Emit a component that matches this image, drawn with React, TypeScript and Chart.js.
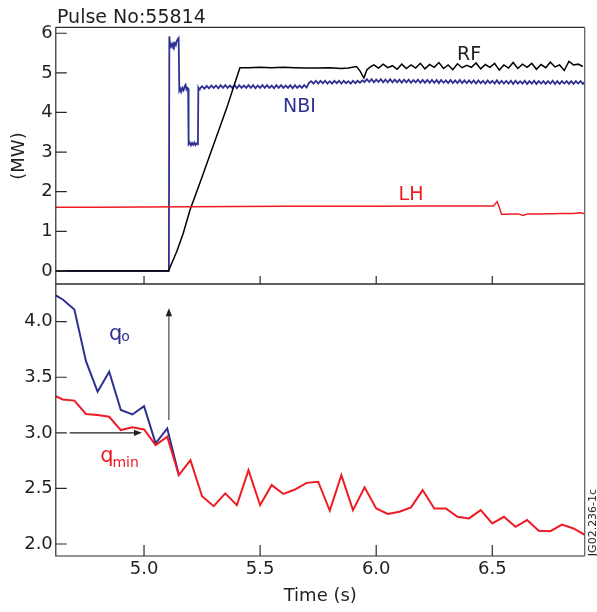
import React, { useEffect, useRef } from 'react';
import { Chart, registerables } from 'chart.js';

Chart.register(...registerables);

// ---------- data ----------
const X_MIN = 4.62;
const X_MAX = 6.898;
const X_TICKS = [5.0, 5.5, 6.0, 6.5];
const POWER_TICKS = [0, 1, 2, 3, 4, 5, 6];
const POWER_MIN = -0.33;
const POWER_MAX = 6.15;
const Q_TICKS = [2.0, 2.5, 3.0, 3.5, 4.0];
const Q_MIN = 1.892;
const Q_MAX = 4.339;

// NBI power (MW): switch-on steps, then sawtooth ripple sampled every 10 ms
const NBI_HEAD: [number, number][] = [
  [4.6, 0.0], [5.107, 0.0], [5.109, 5.92], [5.113, 5.66], [5.117, 5.72], [5.121, 5.66],
  [5.125, 5.74], [5.129, 5.68], [5.133, 5.75], [5.137, 5.70], [5.141, 5.80], [5.145, 5.85],
  [5.149, 5.88], [5.152, 4.55], [5.156, 4.60], [5.160, 4.52], [5.165, 4.62], [5.170, 4.56],
  [5.175, 4.66], [5.179, 4.70], [5.183, 4.58], [5.187, 4.62], [5.190, 4.60], [5.192, 3.20],
  [5.197, 3.24], [5.202, 3.17], [5.207, 3.23], [5.212, 3.18], [5.217, 3.24], [5.222, 3.18],
  [5.227, 3.22], [5.232, 3.20], [5.234, 4.62], [5.237, 4.58],
];
const NBI_RIPPLE_T0 = 5.24;
const NBI_RIPPLE_DT = 0.01;
const NBI_RIPPLE = [
  4.60, 4.66, 4.60, 4.67, 4.61, 4.68, 4.62, 4.68, 4.61, 4.69,
  4.62, 4.69, 4.62, 4.68, 4.62, 4.69, 4.61, 4.69, 4.62, 4.68,
  4.62, 4.69, 4.62, 4.69, 4.61, 4.68, 4.62, 4.69, 4.62, 4.69,
  4.62, 4.68, 4.61, 4.69, 4.62, 4.69, 4.62, 4.68, 4.62, 4.69,
  4.61, 4.69, 4.62, 4.68, 4.62, 4.69, 4.63, 4.74, 4.79, 4.73,
  4.80, 4.73, 4.80, 4.74, 4.80, 4.73, 4.79, 4.73, 4.80, 4.74,
  4.80, 4.73, 4.80, 4.74, 4.79, 4.73, 4.80, 4.74, 4.80, 4.75,
  4.81, 4.77, 4.84, 4.77, 4.84, 4.76, 4.83, 4.77, 4.84, 4.76,
  4.83, 4.76, 4.84, 4.76, 4.83, 4.76, 4.83, 4.75, 4.83, 4.76,
  4.83, 4.75, 4.82, 4.76, 4.83, 4.75, 4.82, 4.75, 4.82, 4.75,
  4.82, 4.75, 4.82, 4.74, 4.82, 4.75, 4.81, 4.74, 4.82, 4.74,
  4.81, 4.74, 4.82, 4.74, 4.81, 4.74, 4.81, 4.74, 4.81, 4.73,
  4.81, 4.74, 4.80, 4.73, 4.81, 4.74, 4.80, 4.73, 4.81, 4.73,
  4.80, 4.73, 4.80, 4.73, 4.80, 4.72, 4.80, 4.73, 4.79, 4.73,
  4.80, 4.72, 4.79, 4.73, 4.80, 4.72, 4.79, 4.73, 4.79, 4.72,
  4.79, 4.73, 4.80, 4.72, 4.79, 4.72, 4.79, 4.73, 4.79, 4.72,
  4.79, 4.72, 4.79, 4.73, 4.79, 4.72, 4.78,
];

// RF power (MW): ramp, flat top, then noisy part sampled every 20 ms
const RF_HEAD: [number, number][] = [
  [4.6, 0.0], [5.105, 0.0], [5.141, 0.49], [5.169, 0.95], [5.198, 1.54], [5.248, 2.34],
  [5.284, 2.93], [5.320, 3.52], [5.356, 4.11], [5.384, 4.61], [5.413, 5.13], [5.45, 5.13],
  [5.50, 5.14], [5.55, 5.13], [5.60, 5.14], [5.65, 5.13], [5.70, 5.12], [5.75, 5.12],
  [5.80, 5.13], [5.85, 5.11], [5.88, 5.12], [5.915, 5.16], [5.93, 5.05], [5.947, 4.87],
  [5.96, 5.08], [5.975, 5.15],
];
const RF_NOISE_T0 = 5.99;
const RF_NOISE_DT = 0.02;
const RF_NOISE = [
  5.20, 5.12, 5.22, 5.13, 5.18, 5.09, 5.22, 5.11, 5.20, 5.12,
  5.24, 5.10, 5.21, 5.14, 5.26, 5.11, 5.20, 5.08, 5.23, 5.13,
  5.19, 5.14, 5.25, 5.10, 5.21, 5.14, 5.24, 5.07, 5.20, 5.12,
  5.26, 5.11, 5.22, 5.14, 5.24, 5.09, 5.21, 5.13, 5.27, 5.15,
  5.20, 5.06, 5.29, 5.20, 5.22, 5.16,
];

// LH power (MW)
const LH_POINTS: [number, number][] = [
  [4.6, 1.61], [4.8, 1.61], [5.0, 1.615], [5.2, 1.62], [5.4, 1.625], [5.6, 1.63],
  [5.8, 1.63], [6.0, 1.635], [6.2, 1.64], [6.4, 1.64], [6.505, 1.64], [6.521, 1.75],
  [6.528, 1.64], [6.540, 1.43], [6.56, 1.43], [6.58, 1.44], [6.61, 1.44], [6.634, 1.40],
  [6.65, 1.44], [6.70, 1.44], [6.75, 1.445], [6.80, 1.45], [6.85, 1.45], [6.878, 1.47],
  [6.90, 1.44],
];

// safety factor profiles (bottom panel)
const Q_TIMES = [
  4.60, 4.65, 4.70, 4.75, 4.80, 4.85, 4.90, 4.95, 5.00, 5.05,
  5.10, 5.15, 5.20, 5.25, 5.30, 5.35, 5.40, 5.45, 5.50, 5.55,
  5.60, 5.65, 5.70, 5.75, 5.80, 5.85, 5.90, 5.95, 6.00, 6.05,
  6.10, 6.15, 6.20, 6.25, 6.30, 6.35, 6.40, 6.45, 6.50, 6.55,
  6.60, 6.65, 6.70, 6.75, 6.80, 6.85, 6.90,
];
const Q_MIN_VALUES = [
  3.35, 3.30, 3.29, 3.17, 3.16, 3.145, 3.025, 3.05, 3.03, 2.89,
  2.965, 2.62, 2.755, 2.43, 2.34, 2.455, 2.35, 2.665, 2.35, 2.53,
  2.45, 2.49, 2.55, 2.56, 2.30, 2.62, 2.305, 2.51, 2.32, 2.27,
  2.29, 2.33, 2.485, 2.32, 2.32, 2.245, 2.23, 2.305, 2.185, 2.245,
  2.155, 2.215, 2.12, 2.115, 2.175, 2.14, 2.08,
];
const Q_O_VALUES = [
  4.26, 4.20, 4.11, 3.645, 3.37, 3.55, 3.205, 3.165, 3.24, 2.905,
  3.04, 2.62,
];

// ---------- styles ----------
const FONT = "'DejaVu Sans', sans-serif";
const INK = '#231f20';
const BLUE = '#2e3192';
const RED = '#ed1c24';

const pairs = (p: [number, number][]) => p.map(([x, y]) => ({ x, y }));
const sampled = (t0: number, dt: number, v: number[]) => v.map((y, i) => ({ x: t0 + i * dt, y }));

function framePlugin(xTickLen: number, yTickLen: number, yTicks: number[]) {
  return {
    id: 'frame',
    afterDatasetsDraw(chart: any) {
      const { ctx, chartArea: a, scales } = chart;
      ctx.save();
      ctx.lineWidth = 1.2;
      ctx.strokeStyle = '#2b2b2b';
      ctx.beginPath();
      ctx.moveTo(a.right, a.top);
      ctx.lineTo(a.left, a.top);
      ctx.lineTo(a.left, a.bottom);
      ctx.lineTo(a.right, a.bottom);
      ctx.stroke();
      ctx.strokeStyle = '#5a5a5a';
      ctx.beginPath();
      ctx.moveTo(a.right, a.top);
      ctx.lineTo(a.right, a.bottom);
      ctx.stroke();
      ctx.strokeStyle = '#2b2b2b';
      ctx.beginPath();
      for (const t of X_TICKS) {
        const px = scales.x.getPixelForValue(t);
        ctx.moveTo(px, a.bottom);
        ctx.lineTo(px, a.bottom - xTickLen);
      }
      for (const v of yTicks) {
        const py = scales.y.getPixelForValue(v);
        ctx.moveTo(a.left, py);
        ctx.lineTo(a.left + yTickLen, py);
      }
      ctx.stroke();
      ctx.restore();
    },
  };
}

function arrow(ctx: CanvasRenderingContext2D, x1: number, y1: number, x2: number, y2: number, color: string, headColor: string) {
  const ang = Math.atan2(y2 - y1, x2 - x1);
  const hl = 8, hw = 3.2;
  ctx.save();
  ctx.strokeStyle = color;
  ctx.lineWidth = 1.3;
  ctx.beginPath();
  ctx.moveTo(x1, y1);
  ctx.lineTo(x2 - Math.cos(ang) * (hl - 1), y2 - Math.sin(ang) * (hl - 1));
  ctx.stroke();
  ctx.fillStyle = headColor;
  ctx.beginPath();
  ctx.moveTo(x2, y2);
  ctx.lineTo(x2 - Math.cos(ang) * hl - Math.sin(ang) * hw, y2 - Math.sin(ang) * hl + Math.cos(ang) * hw);
  ctx.lineTo(x2 - Math.cos(ang) * hl + Math.sin(ang) * hw, y2 - Math.sin(ang) * hl - Math.cos(ang) * hw);
  ctx.closePath();
  ctx.fill();
  ctx.restore();
}

const topText = {
  id: 'topText',
  afterDraw(chart: any) {
    const { ctx, scales } = chart;
    const X = (t: number) => scales.x.getPixelForValue(t);
    const Y = (v: number) => scales.y.getPixelForValue(v);
    ctx.save();
    ctx.textBaseline = 'alphabetic';
    ctx.fillStyle = INK;
    ctx.textAlign = 'left';
    ctx.font = `19px ${FONT}`;
    ctx.fillText('Pulse No:55814', 57, 22.5);
    ctx.save();
    ctx.translate(24, 156);
    ctx.rotate(-Math.PI / 2);
    ctx.textAlign = 'center';
    ctx.font = `18px ${FONT}`;
    ctx.fillText('(MW)', 0, 0);
    ctx.restore();
    ctx.textAlign = 'center';
    ctx.font = `19px ${FONT}`;
    ctx.fillStyle = INK;
    ctx.fillText('RF', X(6.40), Y(5.33));
    ctx.fillStyle = BLUE;
    ctx.fillText('NBI', X(5.669), Y(4.01));
    ctx.fillStyle = RED;
    ctx.fillText('LH', X(6.15), Y(1.79));
    ctx.restore();
  },
};

const bottomText = {
  id: 'bottomText',
  afterDraw(chart: any) {
    const { ctx, scales, chartArea: a } = chart;
    const X = (t: number) => scales.x.getPixelForValue(t);
    const Y = (v: number) => scales.y.getPixelForValue(v);
    ctx.save();
    ctx.textBaseline = 'alphabetic';
    ctx.textAlign = 'left';
    // q_o
    ctx.fillStyle = BLUE;
    ctx.font = `21px ${FONT}`;
    let x0 = X(4.849), y0 = Y(3.835);
    ctx.fillText('q', x0, y0);
    let w = ctx.measureText('q').width;
    ctx.font = `14px ${FONT}`;
    ctx.fillText('o', x0 + w - 1, y0 + 1);
    // q_min
    ctx.fillStyle = RED;
    ctx.font = `21px ${FONT}`;
    x0 = X(4.811); y0 = Y(2.74);
    ctx.fillText('q', x0, y0);
    w = ctx.measureText('q').width;
    ctx.font = `14px ${FONT}`;
    ctx.fillText('min', x0 + w - 1, y0 + 5);
    // arrows
    arrow(ctx, X(5.107), Y(3.116), X(5.107), Y(4.12), '#555555', INK);
    arrow(ctx, X(4.68), Y(3.0), X(4.991), Y(3.0), INK, INK);
    // axis title
    ctx.fillStyle = INK;
    ctx.textAlign = 'center';
    ctx.font = `18px ${FONT}`;
    ctx.fillText('Time (s)', (a.left + a.right) / 2, 318.5);
    // figure id
    ctx.save();
    ctx.translate(596, 240.5);
    ctx.rotate(-Math.PI / 2);
    ctx.font = `11px ${FONT}`;
    ctx.fillText('JG02.236-1c', 0, 0);
    ctx.restore();
    ctx.restore();
  },
};

const fixYAxis = (s: any) => {
  s.width = 55.8;
  s.paddingTop = 0;
  s.paddingBottom = 0;
};
const fixXAxis = (s: any) => {
  s.height = 56;
  s.paddingLeft = 0;
  s.paddingRight = 0;
};

export default function App() {
  const topRef = useRef<HTMLCanvasElement>(null);
  const botRef = useRef<HTMLCanvasElement>(null);

  useEffect(() => {
    document.body.style.margin = '0';
    const tickFont = { family: FONT, size: 18 };
    const top = new Chart(topRef.current as HTMLCanvasElement, {
      type: 'line',
      data: {
        datasets: [
          { label: 'LH', data: pairs(LH_POINTS), borderColor: RED, borderWidth: 1.5 },
          {
            label: 'RF',
            data: [...pairs(RF_HEAD), ...sampled(RF_NOISE_T0, RF_NOISE_DT, RF_NOISE)],
            borderColor: '#000000',
            borderWidth: 1.5,
          },
          {
            label: 'NBI',
            data: [...pairs(NBI_HEAD), ...sampled(NBI_RIPPLE_T0, NBI_RIPPLE_DT, NBI_RIPPLE)],
            borderColor: BLUE,
            borderWidth: 1.8,
          },
        ],
      },
      options: {
        animation: false,
        responsive: false,
        devicePixelRatio: 1,
        layout: { padding: { left: 0, right: 12.3, top: 27.3, bottom: 6 } },
        elements: { point: { radius: 0 }, line: { tension: 0 } },
        plugins: { legend: { display: false }, tooltip: { enabled: false } },
        scales: {
          x: { type: 'linear', min: X_MIN, max: X_MAX, display: false },
          y: {
            type: 'linear',
            min: POWER_MIN,
            max: POWER_MAX,
            afterBuildTicks: (s: any) => { s.ticks = POWER_TICKS.map((v) => ({ value: v })); },
            afterFit: fixYAxis,
            grid: { display: false, drawTicks: false },
            border: { display: false },
            ticks: { font: tickFont, color: INK, padding: 3, callback: (v: any) => String(v) },
          },
        },
      } as any,
      plugins: [framePlugin(8, 11, POWER_TICKS), topText],
    });

    const bot = new Chart(botRef.current as HTMLCanvasElement, {
      type: 'line',
      data: {
        datasets: [
          {
            label: 'qmin',
            data: Q_TIMES.map((t, i) => ({ x: t, y: Q_MIN_VALUES[i] })),
            borderColor: RED,
            borderWidth: 2,
          },
          {
            label: 'qo',
            data: Q_O_VALUES.map((v, i) => ({ x: Q_TIMES[i], y: v })),
            borderColor: BLUE,
            borderWidth: 2,
          },
        ],
      },
      options: {
        animation: false,
        responsive: false,
        devicePixelRatio: 1,
        layout: { padding: { left: 0, right: 12.3, top: 2, bottom: 0 } },
        elements: { point: { radius: 0 }, line: { tension: 0 } },
        plugins: { legend: { display: false }, tooltip: { enabled: false } },
        scales: {
          x: {
            type: 'linear',
            min: X_MIN,
            max: X_MAX,
            afterBuildTicks: (s: any) => { s.ticks = X_TICKS.map((v) => ({ value: v })); },
            afterFit: fixXAxis,
            grid: { display: false, drawTicks: false },
            border: { display: false },
            ticks: {
              font: tickFont, color: INK, padding: 3, maxRotation: 0, autoSkip: false,
              callback: (v: any) => Number(v).toFixed(1),
            },
          },
          y: {
            type: 'linear',
            min: Q_MIN,
            max: Q_MAX,
            afterBuildTicks: (s: any) => { s.ticks = Q_TICKS.map((v) => ({ value: v })); },
            afterFit: fixYAxis,
            grid: { display: false, drawTicks: false },
            border: { display: false },
            ticks: { font: tickFont, color: INK, padding: 3, callback: (v: any) => Number(v).toFixed(1) },
          },
        },
      } as any,
      plugins: [framePlugin(11, 11, Q_TICKS), bottomText],
    });

    return () => {
      top.destroy();
      bot.destroy();
    };
  }, []);

  return (
    <div style={{ position: 'absolute', left: 0, top: 0, width: 597, height: 612, background: '#ffffff' }}>
      <canvas ref={topRef} width={597} height={290} style={{ position: 'absolute', left: 0, top: 0 }} />
      <canvas ref={botRef} width={597} height={330} style={{ position: 'absolute', left: 0, top: 282 }} />
    </div>
  );
}
